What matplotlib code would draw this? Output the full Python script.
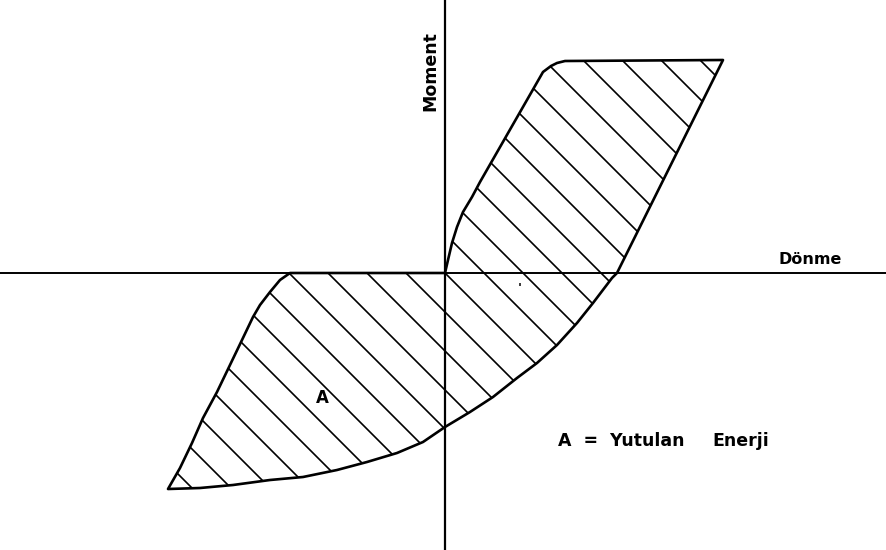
import numpy as np
import matplotlib.pyplot as plt
from matplotlib.patches import Polygon

# Moment - dönme çevrimi (histerezis), keyfi birimler, orijin eksenlerin kesişimi
donme = [0, 3, 7, 12, 18, 27, 35, 98, 106, 112, 120, 278,
         172, 167, 148, 132, 112, 92, 72, 48, 25, 0,
         -22, -48, -78, -108, -142, -175, -212, -245, -277,
         -265, -253, -242, -228, -203, -192, -185, -175, -165, -155, 0]
moment = [0, 13, 30, 46, 61, 76, 91, 201, 207, 210, 212, 213,
          0, -5, -30, -50, -72, -90, -105, -124, -139, -154,
          -169, -180, -189, -197, -204, -207, -212, -215, -216,
          -195, -170, -145, -119, -67, -44, -32, -19, -7, 0, 0]

tarama_araligi = 39  # tarama çizgileri arası (X + Y = sabit)

fig = plt.figure(figsize=(8.87, 5.5), dpi=100)
ax = fig.add_axes([0, 0, 1, 1])
ax.set_xlim(-445, 442)
ax.set_ylim(-277, 273)
ax.axis('off')

# eksenler
ax.axhline(0, color='black', lw=1.4)
ax.axvline(0, color='black', lw=1.6)

# çevrim alanı
poly = Polygon(np.column_stack([donme, moment]), closed=True,
               facecolor='none', edgecolor='black', lw=1.9, joinstyle='round')
ax.add_patch(poly)

# taralı alan: poligona kırpılmış çapraz çizgiler
xs = np.array([-600, 600])
for m in range(-20, 21):
    c = m * tarama_araligi
    ln, = ax.plot(xs, c - xs, color='black', lw=1.2)
    ln.set_clip_path(poly)

font = dict(fontweight='bold', color='black', family='DejaVu Sans')
ax.text(-15, 202, 'Moment', rotation=90, ha='center', va='center', fontsize=12.5, **font)
ax.text(365, 14, 'Dönme', ha='center', va='center', fontsize=11.5, **font)
ax.text(-123, -125, 'A', ha='center', va='center', fontsize=12, **font)
ax.text(113, -168, 'A  =  Yutulan', ha='left', va='center', fontsize=12.5, **font)
ax.text(267, -168, 'Enerji', ha='left', va='center', fontsize=12.5, **font)
ax.text(75, -15, "'", ha='center', va='center', fontsize=9, **font)

fig.savefig('out.png', dpi=100)
